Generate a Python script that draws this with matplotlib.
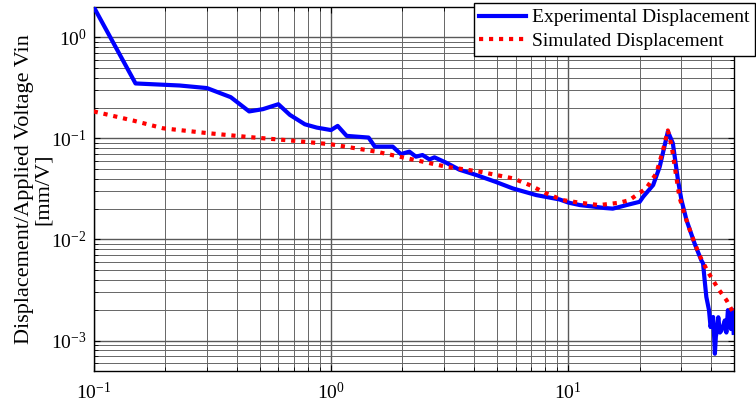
import numpy as np
import matplotlib
matplotlib.use("Agg")
import matplotlib.pyplot as plt

plt.rcParams['font.family'] = ['Liberation Serif', 'DejaVu Serif']
plt.rcParams['mathtext.fontset'] = 'stix'

# experimental displacement
exp_f = [0.1, 0.15, 0.23, 0.30, 0.378, 0.452, 0.517, 0.60, 0.671, 0.776, 0.871, 1.0,
         1.067, 1.164, 1.44, 1.53, 1.6, 1.82, 1.97, 2.14, 2.28, 2.43, 2.60, 2.73, 3.06,
         3.48, 4.09, 4.97, 5.84, 7.33, 9.19, 10.0, 11.2, 13.1, 14.2, 15.4, 16.2, 17.6, 20.0,
         20.7, 22.8, 24.3, 26.3, 27.6, 29.0, 30.0, 31.5, 34.1, 36.4, 37.0, 37.6, 38.2,
         39.2, 39.8, 40.3, 40.8, 41.2, 41.5, 41.9, 42.2, 42.9, 43.6, 44.3, 45.0, 45.7,
         46.4, 47.1, 47.9, 48.5, 49.1, 49.8]
exp_d = [2.0, 0.35, 0.334, 0.315, 0.256, 0.185, 0.195, 0.218, 0.171, 0.138, 0.128, 0.121,
         0.133, 0.106, 0.102, 0.083, 0.083, 0.083, 0.070, 0.074, 0.066, 0.0685, 0.062, 0.065,
         0.0575, 0.049, 0.0435, 0.037, 0.032, 0.0275, 0.0249, 0.0232, 0.0219, 0.021, 0.0205,
         0.0202, 0.0208, 0.0219, 0.0236, 0.0265, 0.0346, 0.0525, 0.117, 0.0896, 0.0388,
         0.0246, 0.0156, 0.0091, 0.0062, 0.0058, 0.0039, 0.0027, 0.0020, 0.00136, 0.0016,
         0.00171, 0.0011, 0.00074, 0.0011, 0.00119, 0.0017, 0.0012, 0.00126, 0.0014,
         0.00158, 0.0012, 0.0020, 0.00148, 0.0013, 0.00202, 0.00119]

# simulated displacement
sim_f = [0.1, 0.147, 0.196, 0.30, 0.455, 0.69, 1.0, 1.55, 2.2, 3.06, 4.23, 5.84, 6.87,
         8.07, 9.5, 11.2, 13.5, 16.4, 18.1, 19.4, 21.3, 23.5, 25.1, 26.3, 27.3, 28.4,
         29.4, 30.8, 32.9, 35.7, 38.8, 42.8, 46.5, 49.8]
sim_d = [0.185, 0.150, 0.126, 0.113, 0.103, 0.095, 0.0875, 0.074, 0.062, 0.0525, 0.0469,
         0.0403, 0.0346, 0.0286, 0.0245, 0.0231, 0.0219, 0.0231, 0.0245, 0.0275, 0.032,
         0.045, 0.0769, 0.12, 0.083, 0.045, 0.0265, 0.0181, 0.0115, 0.007, 0.00477,
         0.00327, 0.0025, 0.00185]

fig = plt.figure(figsize=(7.56, 4.09), dpi=100)
ax = fig.add_axes([0.124, 0.093, 0.847, 0.890])

ax.loglog(exp_f, exp_d, color='#0000ff', lw=3.0, label='Experimental Displacement', zorder=3)
ax.loglog(sim_f, sim_d, color='#ff0000', lw=3.0, dashes=(1.0, 1.4),
          label='Simulated Displacement', zorder=4)

ax.set_xlim(0.1, 50)
ax.set_ylim(5e-4, 2)

ax.grid(True, which='major', color='0.35', lw=1.0)
ax.grid(True, which='minor', color='0.4', lw=0.7)
ax.tick_params(which='both', direction='in', top=True, right=True, labelsize=14,
               color='k')
ax.tick_params(which='major', length=4)
ax.tick_params(which='minor', length=3)
ax.tick_params(axis='x', pad=8)
ax.tick_params(axis='y', pad=5)
for s in ax.spines.values():
    s.set_linewidth(1.0)

ax.set_ylabel('Displacement/Applied Voltage Vin\n[mm/V]', fontsize=16, linespacing=0.95,
              labelpad=-1)

leg = fig.legend(loc='upper right', bbox_to_anchor=(0.999, 0.993), fontsize=14,
                 fancybox=False, framealpha=1, edgecolor='k', borderpad=0.3,
                 handlelength=2.4, handletextpad=0.3, labelspacing=0.3, borderaxespad=0)
leg.get_frame().set_linewidth(1.0)

fig.savefig('out.png', dpi=100)
